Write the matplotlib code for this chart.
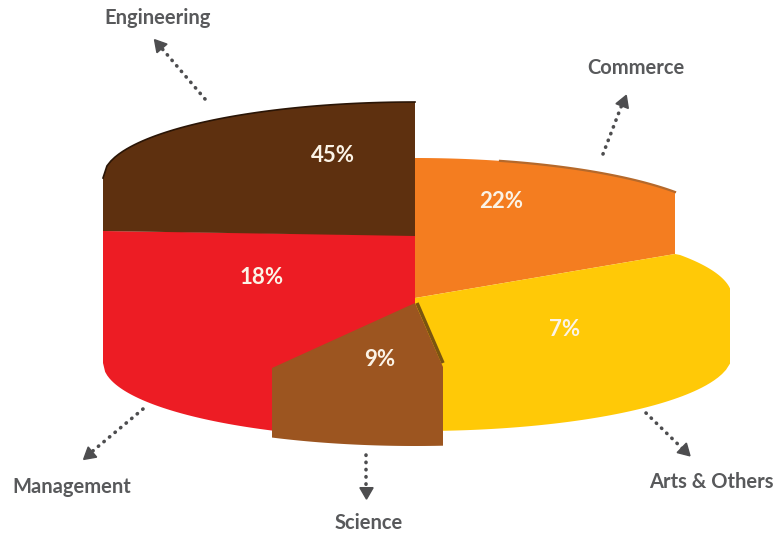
import numpy as np
import matplotlib
matplotlib.use("Agg")
import matplotlib.pyplot as plt

categories = ["Engineering", "Commerce", "Arts & Others", "Science", "Management"]
shares = [45, 22, 7, 9, 18]
colors = ["#5E300F", "#F47D20", "#FFC907", "#9C5520", "#ED1C24"]

TEXT_GREY = "#58595B"
ARROW_GREY = "#4D4D4F"
RX = 312
RY = 76


def rim(cx, cy, x0, x1, upper=True, rx=RX, ry=RY):
    # points along the rim of the flattened disc between two x positions
    x = np.linspace(x0, x1, 80)
    dy = ry * np.sqrt(np.clip(1 - ((x - cx) / rx) ** 2, 0, 1))
    y = cy - dy if upper else cy + dy
    return list(zip(x, y))


def draw_slice(ax, pts, color, z=2):
    xs, ys = zip(*pts)
    ax.fill(xs, ys, color=color, lw=0, zorder=z)


def dotted_arrow(ax, start, tip):
    start = np.array(start, float)
    tip = np.array(tip, float)
    direction = (tip - start) / np.linalg.norm(tip - start)
    neck = tip - direction * 9
    ax.plot([start[0], neck[0]], [start[1], neck[1]], color=ARROW_GREY, lw=2.6,
            ls=(0, (0.1, 1.9)), dash_capstyle="round", zorder=1)
    # y axis is flipped, so the marker angle uses the negated y component
    angle = np.degrees(np.arctan2(-direction[1], direction[0])) - 90
    ax.plot([neck[0]], [neck[1]], marker=(3, 0, angle), ms=11, color=ARROW_GREY,
            mec=ARROW_GREY, zorder=1)


fig = plt.figure(figsize=(7.75, 5.36), dpi=100)
ax = fig.add_axes([0, 0, 1, 1])
ax.set_xlim(0, 775)
ax.set_ylim(536, 0)
ax.axis("off")

idx = {name: i for i, name in enumerate(categories)}

# Commerce
commerce = rim(415, 234, 415, 675) + [(675, 254), (415, 298)]
draw_slice(ax, commerce, colors[idx["Commerce"]], z=2)
ax.plot(*zip(*rim(415, 234, 500, 675)), color="#B5692B", lw=1.6, zorder=2)

# Arts & Others
arts = ([(415, 298), (675, 254)] + rim(420, 297, 680, 730)
        + [(730, 353)] + rim(420, 355, 730, 415, upper=False))
draw_slice(ax, arts, colors[idx["Arts & Others"]], z=3)

# Management
management = [(103, 231), (415, 235), (415, 310), (272, 437)] + rim(415, 363, 272, 103, upper=False)
draw_slice(ax, management, colors[idx["Management"]], z=4)

# Engineering
engineering = rim(415, 178, 103, 415) + [(415, 236), (103, 231)]
draw_slice(ax, engineering, colors[idx["Engineering"]], z=5)
ax.plot(*zip(*rim(415, 178, 103, 415)), color="#2A1506", lw=1.2, zorder=5)

# Science sits in front of its neighbours, with a thin shadow on the yellow side
science = [(415, 303), (272, 368), (272, 434)] + rim(415, 370, 272, 443, upper=False) + [(443, 367)]
ax.plot([417, 443], [303, 363], color="#7A5410", lw=2.5, solid_capstyle="butt", zorder=5)
draw_slice(ax, science, colors[idx["Science"]], z=6)

# share labels on the slices
share_pos = {"Engineering": (333, 155), "Commerce": (501, 201), "Arts & Others": (565, 329),
             "Science": (380, 359), "Management": (262, 277)}
for name, share in zip(categories, shares):
    x, y = share_pos[name]
    ax.text(x, y, f"{share}%", color="#FBF3E6", fontsize=16, fontweight="bold",
            family="Lato", ha="center", va="center", zorder=8)

# category callouts around the chart
callouts = {
    "Engineering": ((205, 99), (153, 38), (158, 18)),
    "Commerce": ((603, 154), (626, 94), (636, 68)),
    "Arts & Others": ((646, 413), (690, 456), (711, 482)),
    "Science": ((366, 455), (366, 500), (369, 523)),
    "Management": ((143, 409), (82, 460), (72, 487)),
}
for name in categories:
    start, tip, label = callouts[name]
    dotted_arrow(ax, start, tip)
    ax.text(label[0], label[1], name, color=TEXT_GREY, fontsize=14.5, fontweight="bold",
            family="Lato", ha="center", va="center")

fig.savefig("out.png", dpi=100, facecolor="white")
